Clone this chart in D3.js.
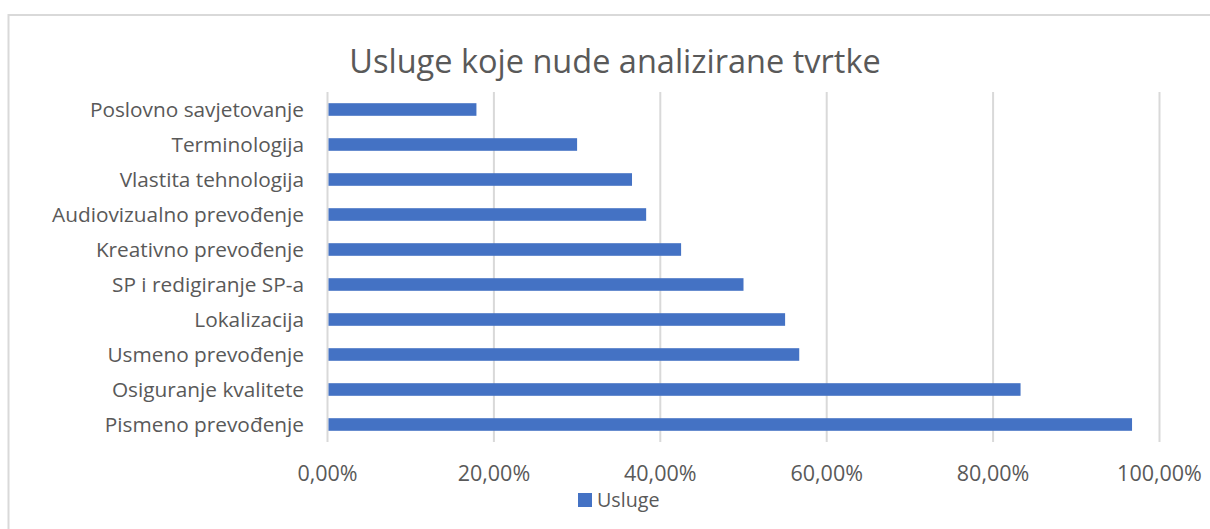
<!DOCTYPE html>
<html>
<head>
<meta charset="utf-8">
<script src="https://cdn.jsdelivr.net/npm/d3@7"></script>
<style>
  body { margin: 0; background: white; }
  text { font-family: "Open Sans", sans-serif; fill: #595959; }
</style>
</head>
<body>
<svg id="chart"></svg>
<script>
// categories top to bottom, values in percent
var categories = ["Poslovno savjetovanje", "Terminologija", "Vlastita tehnologija",
    "Audiovizualno prevođenje", "Kreativno prevođenje", "SP i redigiranje SP-a",
    "Lokalizacija", "Usmeno prevođenje", "Osiguranje kvalitete", "Pismeno prevođenje"]
var values = [17.9, 30.0, 36.6, 38.3, 42.5, 50.0, 55.0, 56.7, 83.3, 96.7]
var xTicks = [0, 20, 40, 60, 80, 100]
var seriesName = "Usluge"
var title = "Usluge koje nude analizirane tvrtke"

var dimensions = {
    width: 1210,
    height: 529,
    margin: { top: 92, bottom: 87, left: 327.5, right: 50.5 }
}

var svg = d3.select("#chart")
            .attr("width", dimensions.width)
            .attr("height", dimensions.height)

// chart area border
svg.append("rect")
    .attr("x", 8.5).attr("y", 15)
    .attr("width", 1220).attr("height", 530)
    .attr("fill", "none")
    .attr("stroke", "#d9d9d9")
    .attr("stroke-width", 2)

var xScale = d3.scaleLinear()
    .domain([0, 100])
    .range([dimensions.margin.left, dimensions.width - dimensions.margin.right])

var yScale = d3.scaleBand()
    .domain(categories)
    .range([dimensions.margin.top, dimensions.height - dimensions.margin.bottom])
    .paddingInner(0.64)
    .paddingOuter(0.32)

// Gridlines
svg.append("g")
    .selectAll("line")
    .data(xTicks)
    .enter()
    .append("line")
    .attr("x1", d => xScale(d))
    .attr("x2", d => xScale(d))
    .attr("y1", dimensions.margin.top)
    .attr("y2", dimensions.height - dimensions.margin.bottom)
    .attr("stroke", "#d9d9d9")
    .attr("stroke-width", 2)

// Bars
svg.append("g")
    .selectAll("rect")
    .data(categories)
    .enter()
    .append("rect")
    .attr("x", xScale(0) + 1)
    .attr("y", d => yScale(d))
    .attr("width", (d, i) => xScale(values[i]) - xScale(0) - 1)
    .attr("height", yScale.bandwidth())
    .attr("fill", "#4472c4")

// y labels
svg.append("g")
    .selectAll("text")
    .data(categories)
    .enter()
    .append("text")
    .attr("x", 304)
    .attr("y", d => yScale(d) + yScale.bandwidth() / 2)
    .attr("dy", "0.36em")
    .attr("text-anchor", "end")
    .style("font-size", "20.8px")
    .text(d => d)

// x axis labels
var fmt = d => d.toFixed(2).replace(".", ",") + "%"
svg.append("g")
    .selectAll("text")
    .data(xTicks)
    .enter()
    .append("text")
    .attr("x", d => xScale(d))
    .attr("y", 481)
    .attr("text-anchor", "middle")
    .style("font-size", "21.5px")
    .text(fmt)

// title
svg.append("text")
    .attr("x", 615)
    .attr("y", 73)
    .attr("text-anchor", "middle")
    .style("font-size", "32.5px")
    .text(title)

// legend
svg.append("rect")
    .attr("x", 578).attr("y", 493)
    .attr("width", 14).attr("height", 14)
    .attr("fill", "#4472c4")
svg.append("text")
    .attr("x", 597)
    .attr("y", 507)
    .style("font-size", "19.7px")
    .text(seriesName)
</script>
</body>
</html>
